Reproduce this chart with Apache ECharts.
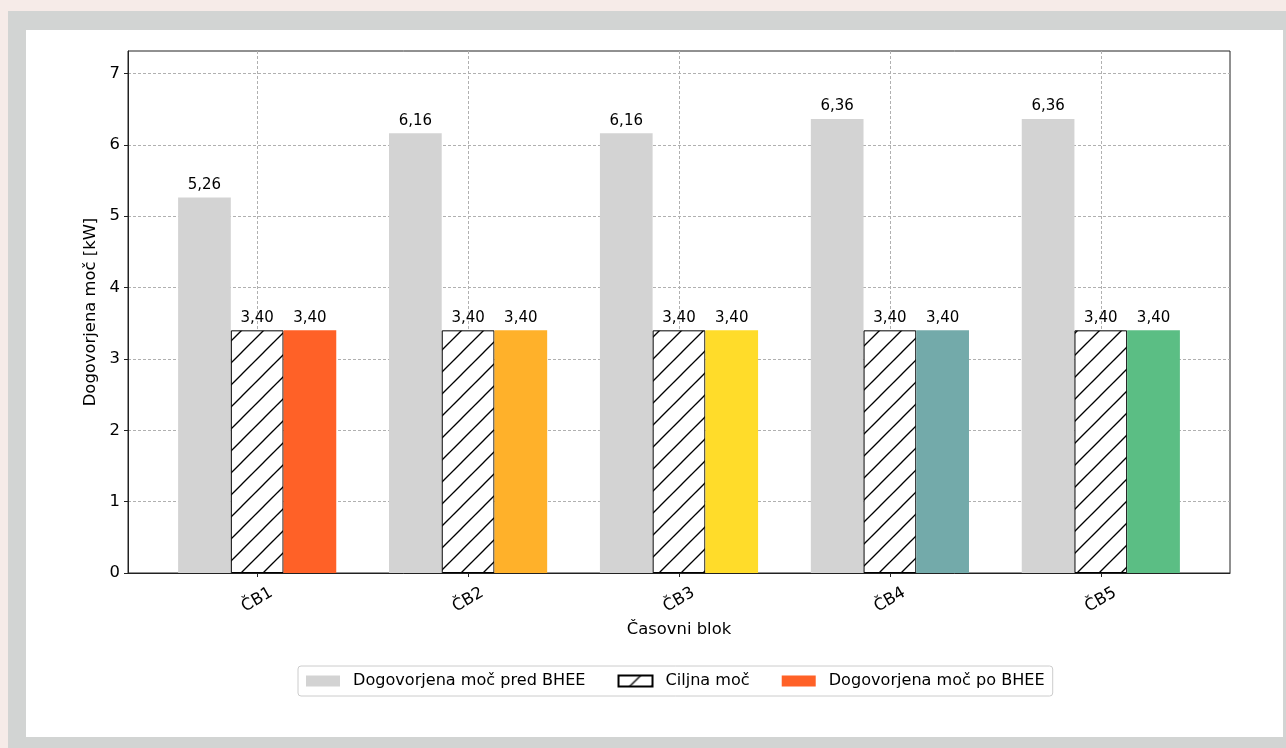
<!DOCTYPE html>
<html>
<head>
<meta charset="utf-8">
<script src="https://cdn.jsdelivr.net/npm/echarts@6/dist/echarts.min.js"></script>
<style>
  html, body { margin: 0; padding: 0; width: 1286px; height: 748px; overflow: hidden; background: #f6ebe8; }
  #frame { position: absolute; left: 8px; top: 11px; width: 1278px; height: 737px; background: #d2d4d3; }
  #inner { position: absolute; left: 26px; top: 30px; width: 1257px; height: 707px; background: #ffffff; }
  #chart { position: absolute; left: 0; top: 0; width: 1286px; height: 748px; }
</style>
</head>
<body>
<div id="frame"></div>
<div id="inner"></div>
<div id="chart"></div>
<script>
// ---- data ----
const categories = ['ČB1', 'ČB2', 'ČB3', 'ČB4', 'ČB5'];
const seriesNames = ['Dogovorjena moč pred BHEE', 'Ciljna moč', 'Dogovorjena moč po BHEE'];
const beforeValues = [5.26, 6.16, 6.16, 6.36, 6.36];
const targetValues = [3.40, 3.40, 3.40, 3.40, 3.40];
const afterValues = [3.40, 3.40, 3.40, 3.40, 3.40];
const afterColors = ['#FF6127', '#FFB12A', '#FFDC2A', '#73AAAA', '#5BBE84'];
const yTicks = [0, 1, 2, 3, 4, 5, 6, 7];

const barOffset = 0.25;
const xMin = -0.6125, xMax = 4.6125;
const yMax = 7.314;

// hatch pattern
function makeHatch() {
  const s = 22;
  const c = document.createElement('canvas');
  c.width = s; c.height = s;
  const g = c.getContext('2d');
  g.fillStyle = '#ffffff';
  g.fillRect(0, 0, s, s);
  g.strokeStyle = '#000000';
  g.lineWidth = 1.3;
  for (const off of [-s, 0, s]) {
    g.beginPath();
    g.moveTo(off - 1, s + 1);
    g.lineTo(off + s + 1, -1);
    g.stroke();
  }
  return c;
}
const hatch = { image: makeHatch(), repeat: 'repeat' };

const fmt = v => v.toFixed(2).replace('.', ',');
const font = 'DejaVu Sans';
const fs = 16.4;

const chart = echarts.init(document.getElementById('chart'), null, { renderer: 'canvas' });

const labelCommon = {
  show: true, position: 'top', distance: 5, color: '#000', fontSize: 15, fontFamily: font,
  formatter: p => fmt(p.value[1])
};

const option = {
  backgroundColor: 'transparent',
  animation: false,
  textStyle: { fontFamily: font },
  grid: {
    left: 128, top: 51, width: 1102, height: 522,
    show: true, borderColor: '#222', borderWidth: 1, backgroundColor: 'transparent'
  },
  legend: {
    left: 298, top: 666,
    padding: [7, 8, 7, 8],
    borderColor: '#cccccc', borderWidth: 1, borderRadius: 3,
    itemWidth: 34, itemHeight: 11, itemGap: 32,
    textStyle: { fontSize: 16.1, color: '#000', fontFamily: font, padding: [0, 0, 0, 8] },
    data: seriesNames.map(n => ({ name: n, icon: 'rect' }))
  },
  xAxis: {
    type: 'value', min: xMin, max: xMax,
    name: 'Časovni blok', nameLocation: 'middle', nameGap: 49,
    nameTextStyle: { fontSize: fs, color: '#000', fontFamily: font },
    axisLine: { show: true, onZero: false, lineStyle: { color: '#222', width: 1 } },
    axisTick: { show: true, length: 4, lineStyle: { color: '#222' }, customValues: categories.map((c, i) => i) },
    axisLabel: {
      customValues: categories.map((c, i) => i),
      formatter: v => categories[Math.round(v)] || '',
      rotate: 30, align: 'center', verticalAlign: 'middle', margin: 27,
      fontSize: fs, color: '#000', fontFamily: font
    },
    splitLine: { show: true, lineStyle: { color: '#b0b0b0', type: [3, 2], width: 1 } }
  },
  yAxis: {
    type: 'value', min: 0, max: yMax, interval: 1,
    name: 'Dogovorjena moč [kW]', nameLocation: 'middle', nameGap: 29,
    nameTextStyle: { fontSize: fs, color: '#000', fontFamily: font },
    axisLine: { show: true, onZero: false, lineStyle: { color: '#222', width: 1 } },
    axisTick: { show: true, length: 4, lineStyle: { color: '#222' }, customValues: yTicks },
    axisLabel: {
      customValues: yTicks,
      fontSize: fs, color: '#000', fontFamily: font, margin: 8,
      formatter: v => String(v)
    },
    splitLine: { show: true, lineStyle: { color: '#b0b0b0', type: [3, 2], width: 1 } }
  },
  series: [
    {
      name: seriesNames[0], type: 'bar', barWidth: 52.7, barGap: '-100%',
      itemStyle: { color: '#d3d3d3' },
      label: labelCommon,
      data: beforeValues.map((v, i) => [i - barOffset, v])
    },
    {
      name: seriesNames[1], type: 'bar', barWidth: 52.7, barGap: '-100%',
      itemStyle: { color: hatch, borderColor: '#000', borderWidth: 1 },
      label: labelCommon,
      data: targetValues.map((v, i) => [i, v])
    },
    {
      name: seriesNames[2], type: 'bar', barWidth: 52.7, barGap: '-100%',
      itemStyle: { color: afterColors[0] },
      label: labelCommon,
      data: afterValues.map((v, i) => ({ value: [i + barOffset, v], itemStyle: { color: afterColors[i] } }))
    }
  ]
};
chart.setOption(option);
</script>
</body>
</html>
